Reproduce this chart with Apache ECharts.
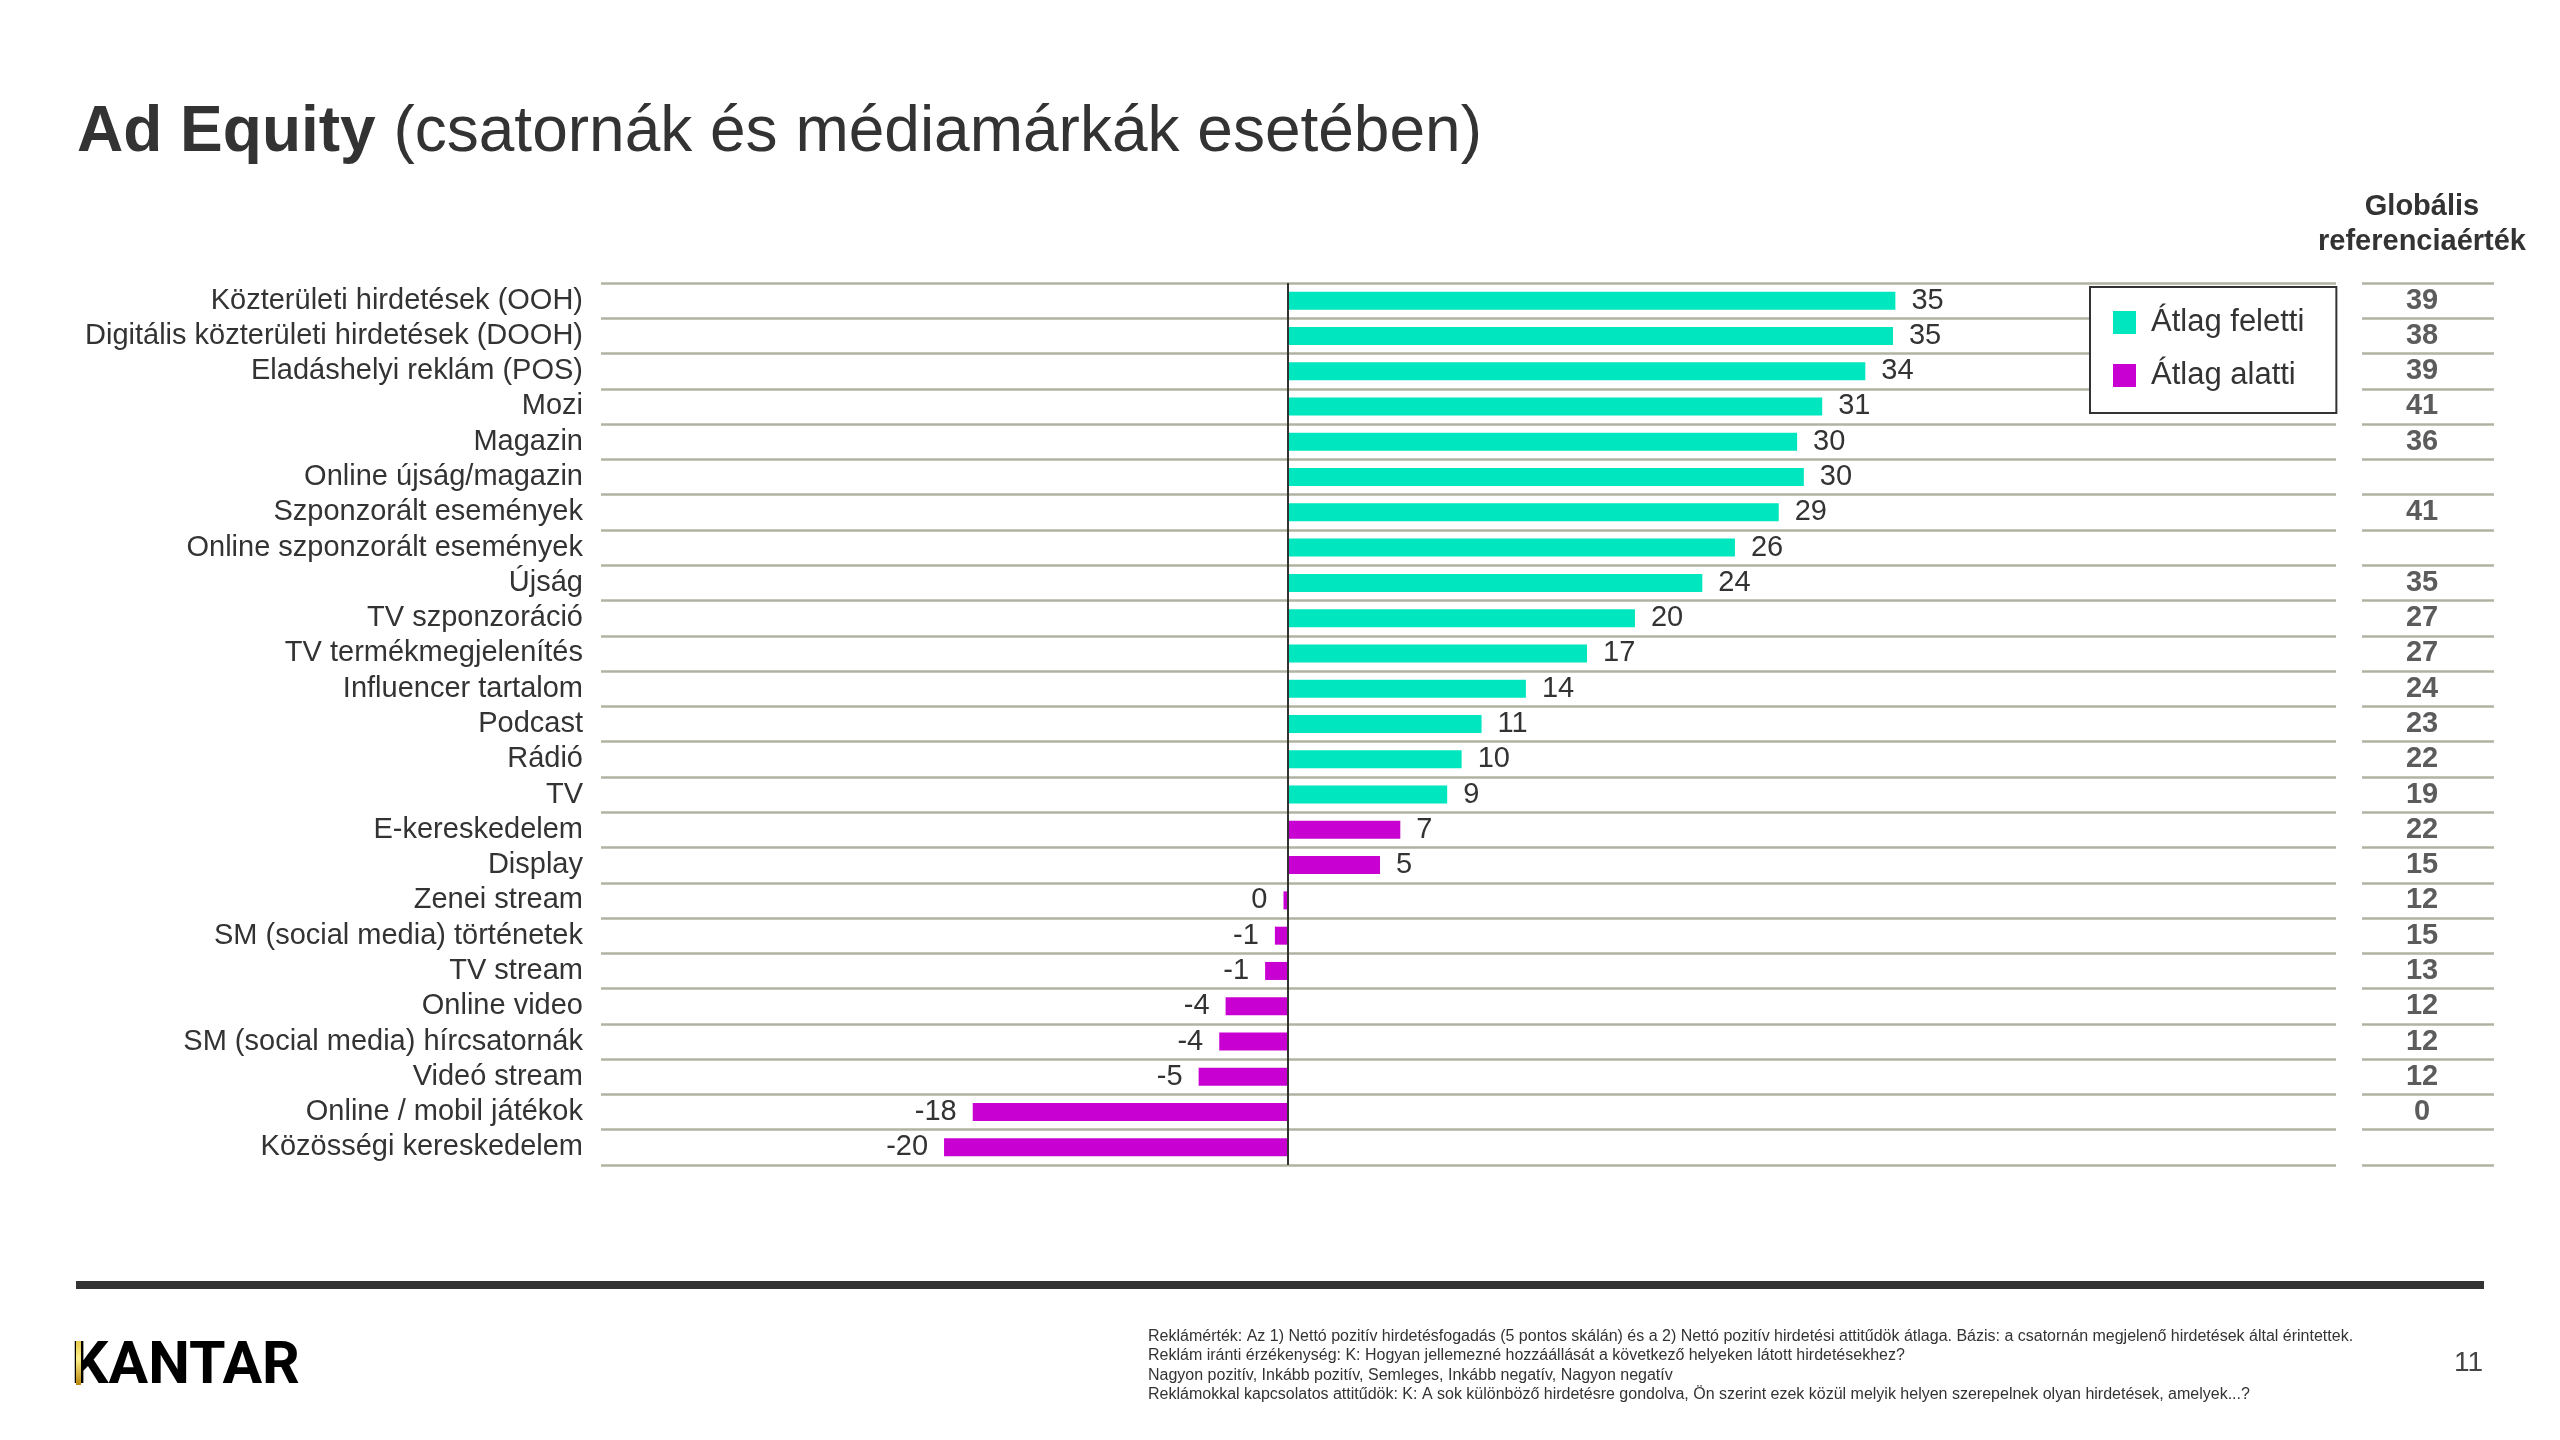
<!DOCTYPE html>
<html>
<head>
<meta charset="utf-8">
<script src="https://cdn.jsdelivr.net/npm/echarts@6/dist/echarts.min.js"></script>
<style>
html,body{margin:0;padding:0;background:#fff;}
#chart{width:2560px;height:1440px;}
</style>
</head>
<body>
<div id="chart"></div>
<script>
const categories = [
  'Közterületi hirdetések (OOH)',
  'Digitális közterületi hirdetések (DOOH)',
  'Eladáshelyi reklám (POS)',
  'Mozi',
  'Magazin',
  'Online újság/magazin',
  'Szponzorált események',
  'Online szponzorált események',
  'Újság',
  'TV szponzoráció',
  'TV termékmegjelenítés',
  'Influencer tartalom',
  'Podcast',
  'Rádió',
  'TV',
  'E-kereskedelem',
  'Display',
  'Zenei stream',
  'SM (social media) történetek',
  'TV stream',
  'Online video',
  'SM (social media) hírcsatornák',
  'Videó stream',
  'Online / mobil játékok',
  'Közösségi kereskedelem'
];
// Ad Equity values (bar lengths), split into above-average and below-average groups
const aboveAverage = [35.35, 35.21, 33.6, 31.09, 29.63, 30.02, 28.56, 26.01, 24.11, 20.19, 17.40, 13.84, 11.26, 10.10, 9.26,
  null, null, null, null, null, null, null, null, null, null];
const belowAverage = [null, null, null, null, null, null, null, null, null, null, null, null, null, null, null,
  6.53, 5.35, -0.27, -0.77, -1.34, -3.64, -4.01, -5.21, -18.36, -20.03];
// Global benchmark column
const globalRef = [39, 38, 39, 41, 36, null, 41, null, 35, 27, 27, 24, 23, 22, 19, 22, 15, 12, 15, 13, 12, 12, 12, 0, null];

const seriesNames = ['Átlag feletti', 'Átlag alatti'];
const footnotes = [
  'Reklámérték: Az 1) Nettó pozitív hirdetésfogadás (5 pontos skálán) és a 2) Nettó pozitív hirdetési attitűdök átlaga. Bázis: a csatornán megjelenő hirdetések által érintettek.',
  'Reklám iránti érzékenység: K: Hogyan jellemezné hozzáállását a következő helyeken látott hirdetésekhez?',
  'Nagyon pozitív, Inkább pozitív, Semleges, Inkább negatív, Nagyon negatív',
  'Reklámokkal kapcsolatos attitűdök: K: A sok különböző hirdetésre gondolva, Ön szerint ezek közül melyik helyen szerepelnek olyan hirdetések, amelyek...?'
];

const FONT = '"Liberation Sans", Arial, sans-serif';
const TXT = '#333333';
const GRIDC = '#b2b2a2';

function barData(arr) {
  return arr.map(v => {
    if (v === null) return '-';
    if (v < 0) return { value: v, label: { position: 'left' } };
    return v;
  });
}

const labelCfg = {
  show: true,
  position: 'right',
  distance: 16,
  fontFamily: FONT,
  fontSize: 29,
  color: TXT,
  formatter: p => String(Math.round(p.value) + 0)
};

const chart = echarts.init(document.getElementById('chart'), null, { renderer: 'canvas' });

const option = {
  backgroundColor: '#ffffff',
  animation: false,
  textStyle: { fontFamily: FONT },
  grid: [
    { left: 601, right: 224, top: 283, bottom: 275 },
    { left: 2362, right: 66, top: 283, bottom: 275 }
  ],
  legend: {
    data: seriesNames,
    orient: 'vertical',
    left: 2090,
    top: 287,
    backgroundColor: '#ffffff',
    borderColor: '#333333',
    borderWidth: 2,
    padding: [20, 32, 22, 23],
    itemWidth: 43,
    itemHeight: 23,
    itemGap: 22,
    icon: 'path://M0,0H10V10H0Z',
    symbolKeepAspect: true,
    textStyle: { fontFamily: FONT, fontSize: 31, color: TXT },
    selectedMode: false
  },
  xAxis: [
    { type: 'value', gridIndex: 0, min: -40, max: 61, show: false, splitLine: { show: false } },
    { type: 'value', gridIndex: 1, min: 0, max: 2, show: false, splitLine: { show: false } }
  ],
  yAxis: [
    {
      type: 'category', gridIndex: 0, inverse: true, data: categories,
      axisLine: { show: false }, axisTick: { show: false },
      axisLabel: { interval: 0, margin: 18, fontFamily: FONT, fontSize: 29, color: TXT },
      splitLine: { show: true, interval: 0, lineStyle: { color: GRIDC, width: 2.5 } }
    },
    {
      type: 'category', gridIndex: 1, inverse: true, data: categories,
      axisLine: { show: false }, axisTick: { show: false },
      axisLabel: { show: false },
      splitLine: { show: true, interval: 0, lineStyle: { color: GRIDC, width: 2.5 } }
    }
  ],
  series: [
    {
      name: seriesNames[0], type: 'bar', xAxisIndex: 0, yAxisIndex: 0,
      data: barData(aboveAverage), barWidth: 18, barGap: '-100%',
      itemStyle: { color: '#00e6be' },
      label: labelCfg,
      markLine: {
        silent: true, symbol: 'none', label: { show: false },
        lineStyle: { color: '#333333', width: 2, type: 'solid' },
        data: [{ xAxis: 0 }]
      },
      z: 3
    },
    {
      name: seriesNames[1], type: 'bar', xAxisIndex: 0, yAxisIndex: 0,
      data: barData(belowAverage), barWidth: 18, barGap: '-100%',
      itemStyle: { color: '#c800d2' },
      label: labelCfg,
      z: 3
    },
    {
      name: 'Globális referenciaérték', type: 'scatter', xAxisIndex: 1, yAxisIndex: 1,
      symbolSize: 1, itemStyle: { color: 'rgba(0,0,0,0)' },
      data: globalRef.map((v, i) => v === null ? null : [0.91, i, v]).filter(d => d !== null),
      label: {
        show: true, position: 'inside', fontFamily: FONT, fontSize: 29, fontWeight: 'bold', color: TXT,
        formatter: p => String(p.value[2])
      }
    }
  ],
  graphic: [
    {
      type: 'text', left: 77, top: 101,
      style: {
        text: '{b|Ad Equity} {r|(csatornák és médiamárkák esetében)}',
        rich: {
          b: { fontFamily: FONT, fontSize: 64, fontWeight: 'bold', fill: TXT },
          r: { fontFamily: FONT, fontSize: 64, fill: TXT }
        },
        font: '64px ' + FONT
      }
    },
    {
      type: 'text', x: 2422, y: 207,
      style: { text: 'Globális', fontFamily: FONT, fontSize: 29, fontWeight: 'bold', fill: TXT, align: 'center', verticalAlign: 'middle' }
    },
    {
      type: 'text', x: 2422, y: 242,
      style: { text: 'referenciaérték', fontFamily: FONT, fontSize: 29, fontWeight: 'bold', fill: TXT, align: 'center', verticalAlign: 'middle' }
    },
    {
      type: 'rect', shape: { x: 76, y: 1281, width: 2408, height: 8 },
      style: { fill: '#333333' }
    },
    {
      type: 'text', x: 71, y: 1368,
      style: { text: 'KANTAR', fontFamily: 'Roboto, sans-serif', fontSize: 59, fontWeight: 'bold', fill: '#000000', verticalAlign: 'middle' }
    },
    {
      type: 'rect', shape: { x: 76, y: 1341, width: 5, height: 44 }, z: 10,
      style: {
        fill: new echarts.graphic.LinearGradient(0, 0, 0, 1, [
          { offset: 0, color: '#e8c94a' }, { offset: 0.4, color: '#fff08a' }, { offset: 1, color: '#b8860b' }
        ])
      }
    },
    {
      type: 'text', x: 1148, y: 1327,
      style: { text: footnotes.join('\n'), fontFamily: FONT, fontSize: 16, lineHeight: 19.3, fill: TXT, verticalAlign: 'top' }
    },
    {
      type: 'text', x: 2483, y: 1363,
      style: { text: '11', fontFamily: FONT, fontSize: 28, fill: '#444444', align: 'right', verticalAlign: 'middle' }
    }
  ]
};
chart.setOption(option);
</script>
</body>
</html>
